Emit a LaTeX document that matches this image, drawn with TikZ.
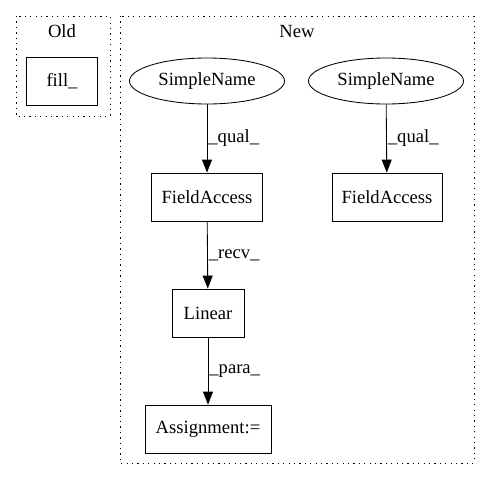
\documentclass[tikz,border=0pt]{standalone}
\usepackage{fontspec}
\setmainfont{Liberation Serif}
\usetikzlibrary{arrows.meta,shapes.geometric}
\begin{document}
\begin{tikzpicture}[x=1pt,y=-1pt,
  every node/.style={font=\fontsize{18.6}{21}\selectfont},
  cluster/.style={draw, line width=1pt, dash pattern=on 1.3pt off 4.1pt},
  boxnode/.style={draw, rectangle, line width=0.85pt, minimum height=48pt, inner sep=0pt},
  ellnode/.style={draw, ellipse, line width=0.85pt, minimum height=46pt, minimum width=155pt, inner sep=0pt},
  edge/.style={draw, line width=0.85pt, -{Triangle[length=13pt,width=10pt]}},
  elabel/.style={right, inner sep=1pt}]
\useasboundingbox (0,0) rectangle (491,480);
\draw[cluster] (16,16) rectangle (110,116);
\draw[cluster] (120,16) rectangle (474,463);
\node (oldlbl) at (62,31) {Old};
\node (newlbl) at (297,31) {New};
\node[boxnode, minimum width=71pt] (fill) at (62,81) {fill\_};
\node[ellnode] (sn1) at (207,81) {SimpleName};
\node[ellnode] (sn2) at (386,81) {SimpleName};
\node[boxnode, minimum width=111pt] (fa1) at (207,197) {FieldAccess};
\node[boxnode, minimum width=110pt] (fa2) at (387,197) {FieldAccess};
\node[boxnode, minimum width=72pt] (lin) at (208,313) {Linear};
\node[boxnode, minimum width=126pt] (asg) at (208,429) {Assignment:=};
\draw[edge] (sn1) -- node[elabel] {\_qual\_} (fa1);
\draw[edge] (sn2) -- node[elabel] {\_qual\_} (fa2);
\draw[edge] (fa1) -- node[elabel] {\_recv\_} (lin);
\draw[edge] (lin) -- node[elabel] {\_para\_} (asg);
\end{tikzpicture}
\end{document}
